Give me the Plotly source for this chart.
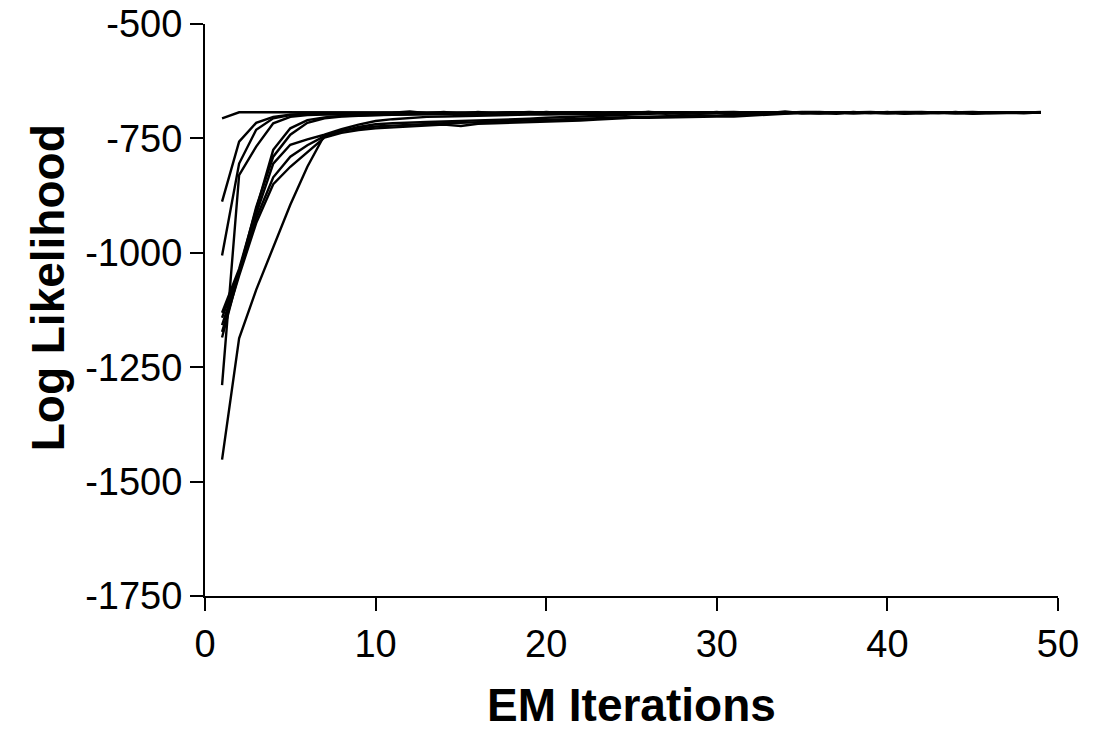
import plotly.graph_objects as go

iterations = [1, 2, 3, 4, 5, 6, 7, 8, 9, 10, 11, 12, 13, 14, 15, 16, 17, 18, 19, 20,
              21, 22, 23, 24, 25, 26, 27, 28, 29, 30, 31, 32, 33, 34, 35, 36, 37, 38, 39, 40,
              41, 42, 43, 44, 45, 46, 47, 48, 49]

run_a = [-706, -693, -693, -693, -693, -693, -693, -693, -693, -693,
         -693, -693, -693, -693, -693, -693, -693, -693, -693, -693,
         -693, -693, -693, -693, -693, -693, -693, -693, -693, -693,
         -693, -693, -693, -693, -693, -693, -693, -693, -693, -693,
         -693, -693, -693, -693, -693, -693, -694, -694, -694]
run_b = [-888, -757, -716, -703, -698, -696, -696, -695, -695, -695,
         -694, -691, -695, -692, -696, -692, -695, -693, -696, -692,
         -695, -693, -696, -693, -695, -692, -696, -693, -695, -692,
         -696, -693, -695, -691, -695, -693, -696, -692, -695, -692,
         -696, -693, -695, -692, -696, -694, -695, -695, -693]
run_c = [-1006, -805, -731, -706, -699, -697, -697, -697, -696, -696,
         -696, -696, -696, -695, -695, -694, -696, -694, -692, -694,
         -696, -694, -693, -695, -693, -692, -694, -696, -694, -693,
         -695, -693, -693, -694, -693, -692, -694, -693, -692, -694,
         -693, -692, -694, -693, -692, -694, -694, -694, -692]
run_d = [-1131, -1035, -905, -775, -728, -710, -704, -701, -700, -699,
         -698, -698, -697, -697, -696, -696, -695, -694, -693, -695,
         -693, -694, -696, -694, -693, -695, -693, -694, -696, -694,
         -693, -695, -694, -693, -695, -694, -693, -695, -694, -693,
         -695, -694, -693, -694, -695, -694, -694, -694, -693]
run_e = [-1142, -1040, -915, -805, -764, -752, -742, -730, -720, -712,
         -708, -705, -703, -702, -701, -700, -700, -699, -698, -698,
         -697, -697, -696, -696, -695, -695, -694, -695, -694, -693,
         -694, -695, -694, -693, -694, -695, -694, -693, -694, -693,
         -694, -695, -694, -693, -694, -693, -694, -694, -693]
run_f = [-1158, -1045, -925, -835, -790, -765, -745, -734, -725, -719,
         -717, -715, -714, -713, -712, -711, -710, -709, -707, -705,
         -703, -702, -701, -699, -697, -696, -695, -695, -694, -694,
         -693, -694, -695, -694, -693, -694, -695, -694, -693, -694,
         -695, -694, -693, -694, -695, -694, -694, -694, -693]
run_g = [-1173, -1050, -935, -850, -812, -780, -748, -738, -732, -728,
         -726, -725, -723, -720, -723, -718, -717, -716, -715, -713,
         -712, -711, -709, -707, -705, -705, -704, -703, -703, -702,
         -702, -700, -697, -695, -694, -695, -694, -693, -694, -695,
         -694, -693, -694, -695, -694, -693, -694, -694, -693]
run_h = [-1185, -1040, -900, -790, -742, -716, -706, -702, -700, -699,
         -698, -697, -697, -696, -696, -695, -695, -694, -694, -693,
         -694, -693, -694, -695, -694, -693, -694, -695, -694, -693,
         -694, -695, -694, -693, -694, -695, -694, -693, -694, -695,
         -694, -693, -694, -695, -694, -693, -694, -694, -694]
run_i = [-1289, -830, -768, -717, -703, -699, -698, -698, -697, -697,
         -697, -696, -697, -696, -695, -696, -695, -694, -695, -694,
         -693, -694, -695, -693, -694, -693, -694, -693, -694, -693,
         -692, -694, -693, -694, -692, -693, -694, -693, -694, -693,
         -692, -693, -694, -693, -694, -693, -694, -694, -693]
run_j = [-1452, -1187, -1081, -987, -895, -812, -743, -733, -728, -724,
         -722, -720, -718, -717, -716, -714, -713, -712, -711, -709,
         -708, -707, -706, -704, -703, -702, -701, -701, -700, -700,
         -699, -698, -697, -695, -694, -693, -694, -695, -694, -693,
         -694, -695, -694, -693, -694, -695, -694, -694, -693]

runs = [run_a, run_b, run_c, run_d, run_e, run_f, run_g, run_h, run_i, run_j]

x_ticks = [0, 10, 20, 30, 40, 50]
x_tick_labels = ["0", "10", "20", "30", "40", "50"]
y_ticks = [-1750, -1500, -1250, -1000, -750, -500]
y_tick_labels = ["-1750", "-1500", "-1250", "-1000", "-750", "-500"]

FONT = "Liberation Sans, Arial, sans-serif"

fig = go.Figure()
for r in runs:
    fig.add_trace(go.Scatter(x=iterations, y=r, mode="lines",
                             line=dict(color="black", width=2.4),
                             showlegend=False, hoverinfo="skip"))

axis_common = dict(showgrid=False, zeroline=False, showline=True, linecolor="black",
                   linewidth=2, ticks="outside", ticklen=13, tickwidth=2, tickcolor="black",
                   automargin=False,
                   tickfont=dict(family=FONT, size=38, color="black"))

fig.update_xaxes(range=[0, 50], tickvals=x_ticks, ticktext=x_tick_labels, **axis_common)
fig.update_yaxes(range=[-1750, -500], tickvals=y_ticks, ticktext=y_tick_labels, **axis_common)

fig.add_annotation(text="<b>EM Iterations</b>", xref="paper", yref="paper",
                   x=0.5, y=-0.19, yanchor="middle", xanchor="center", showarrow=False,
                   font=dict(family=FONT, size=46, color="black"))
fig.add_annotation(text="<b>Log Likelihood</b>", xref="paper", yref="paper",
                   x=-0.184, y=0.538, xanchor="center", yanchor="middle", textangle=-90,
                   showarrow=False, font=dict(family=FONT, size=46, color="black"))

fig.update_layout(width=1093, height=733, paper_bgcolor="white", plot_bgcolor="white",
                  margin=dict(l=205, r=35, t=24, b=137, autoexpand=False))

fig.write_html("out.html", config={"displayModeBar": False},
               post_script="document.body.style.margin='0px';")
